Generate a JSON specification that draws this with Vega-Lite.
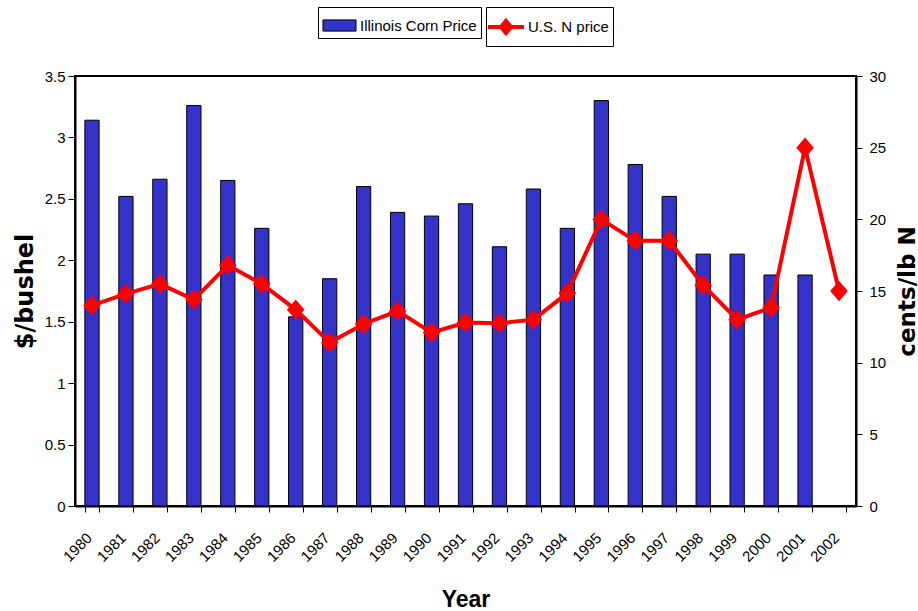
{
  "$schema": "https://vega.github.io/schema/vega-lite/v6.json",
  "width": 781,
  "height": 430,
  "autosize": {"type": "none"},
  "padding": {"left": 75, "top": 76, "right": 62, "bottom": 105},
  "background": "white",
  "config": {
    "font": "Liberation Sans",
    "view": {"stroke": "black", "strokeWidth": 2},
    "axis": {
      "grid": false,
      "domainColor": "black",
      "domainWidth": 2,
      "tickColor": "black",
      "tickWidth": 1,
      "labelColor": "black",
      "titleColor": "black",
      "labelFont": "Liberation Sans"
    }
  },
  "data": {
    "values": [
      {"year": "1980", "corn": 3.14, "nprice": 14.0},
      {"year": "1981", "corn": 2.52, "nprice": 14.8},
      {"year": "1982", "corn": 2.66, "nprice": 15.5},
      {"year": "1983", "corn": 3.26, "nprice": 14.4},
      {"year": "1984", "corn": 2.65, "nprice": 16.8},
      {"year": "1985", "corn": 2.26, "nprice": 15.5},
      {"year": "1986", "corn": 1.54, "nprice": 13.7},
      {"year": "1987", "corn": 1.85, "nprice": 11.4},
      {"year": "1988", "corn": 2.6, "nprice": 12.7},
      {"year": "1989", "corn": 2.39, "nprice": 13.6},
      {"year": "1990", "corn": 2.36, "nprice": 12.1},
      {"year": "1991", "corn": 2.46, "nprice": 12.8},
      {"year": "1992", "corn": 2.11, "nprice": 12.75},
      {"year": "1993", "corn": 2.58, "nprice": 13.0},
      {"year": "1994", "corn": 2.26, "nprice": 14.85},
      {"year": "1995", "corn": 3.3, "nprice": 20.0},
      {"year": "1996", "corn": 2.78, "nprice": 18.5},
      {"year": "1997", "corn": 2.52, "nprice": 18.5},
      {"year": "1998", "corn": 2.05, "nprice": 15.4},
      {"year": "1999", "corn": 2.05, "nprice": 13.0},
      {"year": "2000", "corn": 1.88, "nprice": 13.85},
      {"year": "2001", "corn": 1.88, "nprice": 25.0},
      {"year": "2002", "corn": null, "nprice": 15.0}
    ]
  },
  "encoding": {
    "x": {
      "field": "year",
      "type": "ordinal",
      "scale": {"paddingInner": 0.58, "paddingOuter": 0.29},
      "axis": {
        "title": "Year",
        "titleFont": "Liberation Sans",
        "titleFontSize": 23,
        "titleFontWeight": "bold",
        "titleBaseline": "alphabetic",
        "titleY": 100,
        "labelAngle": -45,
        "labelAlign": "right",
        "labelBaseline": "middle",
        "labelFontSize": 15,
        "labelPadding": 23,
        "labelOffset": -3,
        "tickBand": "extent",
        "tickSize": 6,
        "encode": {"ticks": {"y": {"value": -6}}}
      }
    }
  },
  "layer": [
    {
      "mark": {"type": "bar", "stroke": "black", "strokeWidth": 1},
      "encoding": {
        "y": {
          "field": "corn",
          "type": "quantitative",
          "scale": {"domain": [0, 3.5], "nice": false},
          "axis": {
            "orient": "left",
            "title": "$/bushel",
            "titleFont": "DejaVu Sans",
            "titleFontSize": 24,
            "titleFontWeight": "bold",
            "titleAngle": -90,
            "titleBaseline": "alphabetic",
            "titleX": -43,
            "titleY": 215,
            "values": [0, 0.5, 1, 1.5, 2, 2.5, 3, 3.5],
            "format": "~g",
            "labelFontSize": 15,
            "tickSize": 7,
            "labelPadding": 3,
            "encode": {"ticks": {"x": {"value": 4}}}
          }
        },
        "fill": {
          "datum": "Illinois Corn Price",
          "type": "nominal",
          "scale": {"domain": ["Illinois Corn Price"], "range": ["#3333cc"]},
          "legend": {
            "title": null,
            "orient": "none",
            "legendX": 243,
            "legendY": -69,
            "direction": "horizontal",
            "strokeColor": "black",
            "padding": 4,
            "symbolType": "M-1.18,-0.4H1.18V0.4H-1.18Z",
            "symbolSize": 784,
            "symbolOffset": 3,
            "symbolStrokeColor": "black",
            "symbolStrokeWidth": 1,
            "symbolOpacity": 1,
            "labelFontSize": 15,
            "labelFont": "Liberation Sans",
            "labelColor": "black",
            "labelOffset": 6
          }
        }
      }
    },
    {
      "mark": {
        "type": "line",
        "strokeWidth": 4,
        "point": {"shape": "M-1,0L0,-1.15L1,0L0,1.15Z", "size": 225, "filled": true, "color": "#ff0000"}
      },
      "encoding": {
        "y": {
          "field": "nprice",
          "type": "quantitative",
          "scale": {"domain": [0, 30], "nice": false},
          "axis": {
            "orient": "right",
            "title": "cents/lb N",
            "titleFont": "DejaVu Sans",
            "titleFontSize": 23,
            "titleFontWeight": "bold",
            "titleAngle": -90,
            "titleBaseline": "alphabetic",
            "titleX": 58,
            "titleY": 215,
            "values": [0, 5, 10, 15, 20, 25, 30],
            "labelFontSize": 15,
            "tickSize": 6,
            "labelPadding": 7,
            "encode": {"ticks": {"x": {"value": -4}}}
          }
        },
        "stroke": {
          "datum": "U.S. N price",
          "type": "nominal",
          "scale": {"domain": ["U.S. N price"], "range": ["#ff0000"]},
          "legend": {
            "title": null,
            "orient": "none",
            "legendX": 411,
            "legendY": -69,
            "direction": "horizontal",
            "strokeColor": "black",
            "padding": 4,
            "symbolType": "M-1.29,0H1.29M0,-0.43L0.36,0L0,0.43L-0.36,0Z",
            "symbolSize": 784,
            "symbolStrokeWidth": 4,
            "symbolFillColor": "#ff0000",
            "symbolOpacity": 1,
            "labelFontSize": 15,
            "labelFont": "Liberation Sans",
            "labelColor": "black",
            "labelOffset": 6
          }
        }
      }
    }
  ],
  "resolve": {"scale": {"y": "independent"}}
}
